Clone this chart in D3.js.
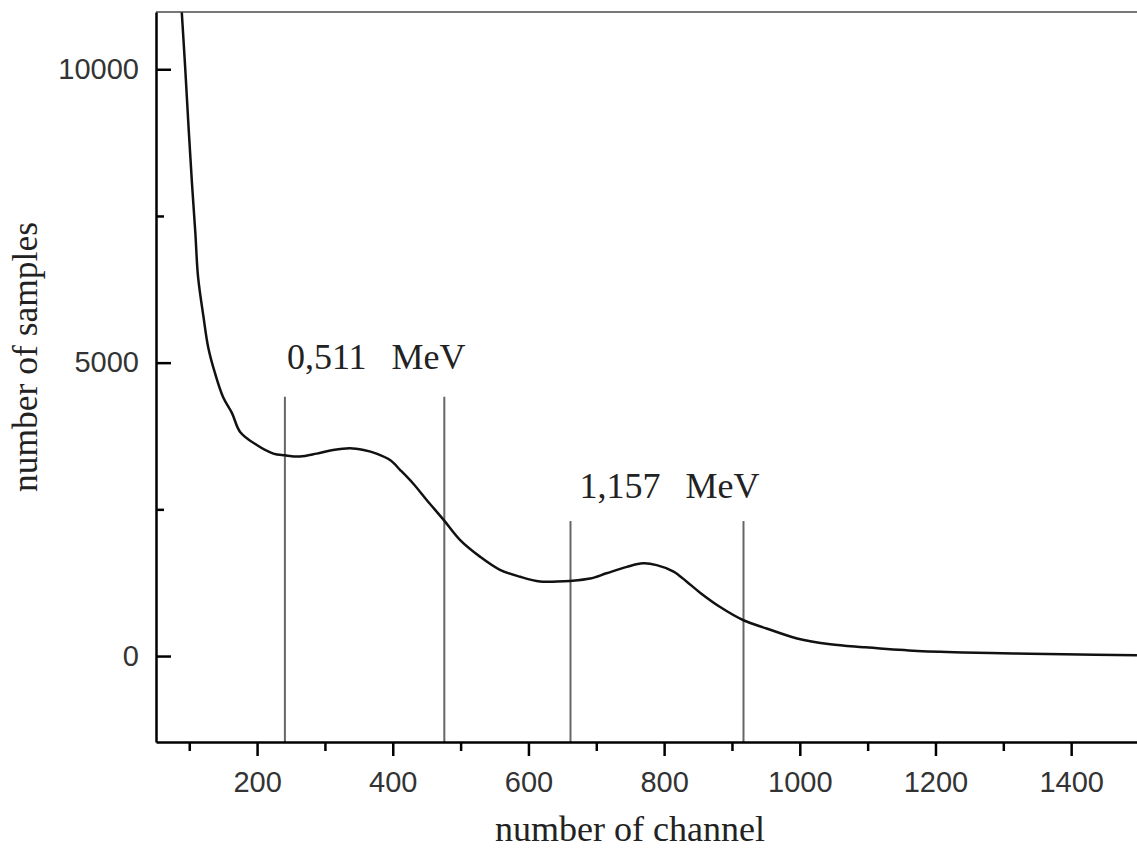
<!DOCTYPE html>
<html lang="en">

<head>
    <meta charset="UTF-8">
    <title>Spectrum</title>
    <script src="https://cdn.jsdelivr.net/npm/d3@7/dist/d3.min.js"></script>

    <style>

        body {
            margin: 0;
            background: #fff;
        }

        .tick text {
            font-family: "Liberation Sans", Arial, sans-serif;
            font-size: 29px;
            fill: #333;
        }

        .axis-title, .note {
            font-family: "Liberation Serif", "Times New Roman", serif;
            fill: #222;
        }

    </style>

</head>

<body>

    <svg width="1137" height="850"></svg>

    <script>

        // spectrum
        var channels = [89, 94, 99, 104, 109, 113, 121, 128, 138, 150, 163, 175, 199, 224, 241, 263,
            288, 312, 337, 357, 376, 396, 411, 430, 450, 475, 499, 529, 558, 588, 617, 642, 661,
            691, 715, 745, 769, 789, 814, 833, 853, 882, 917, 951, 996, 1045, 1094, 1167, 1241,
            1315, 1389, 1497];
        var counts = [10970, 10030, 9010, 8060, 7210, 6460, 5780, 5260, 4820, 4410, 4140, 3820, 3600,
            3450, 3420, 3400, 3450, 3510, 3540, 3510, 3450, 3340, 3170, 2940, 2660, 2320, 1980,
            1690, 1470, 1350, 1270, 1270, 1280, 1320, 1410, 1520, 1580, 1550, 1440, 1270, 1080,
            840, 610, 470, 300, 200, 150, 90, 60, 45, 30, 15];

        var xTicks = [200, 400, 600, 800, 1000, 1200, 1400];
        var xMinorTicks = [100, 300, 500, 700, 900, 1100, 1300, 1500];
        var yTicks = [0, 5000, 10000];
        var yMinorTicks = [2500, 7500];

        // window markers and their labels
        var markerChannels = [241, 476, 662, 917];
        var markerTops = [4420, 4420, 2300, 2300];
        var noteNames = ["0,511", "1,157"];
        var noteChannels = [241, 662];
        var noteCounts = [4900, 2690];

        var svg = d3.select("svg");

        var plotLeft = 156, plotRight = 1139, plotTop = 12, plotBottom = 742;

        var x = d3.scaleLinear()
            .domain([51, 1500])
            .range([plotLeft, plotRight]);

        var y = d3.scaleLinear()
            .domain([-1465, 10976])
            .range([plotBottom, plotTop]);

        svg.append("defs").append("clipPath")
            .attr("id", "plot")
            .append("rect")
            .attr("x", plotLeft)
            .attr("y", plotTop)
            .attr("width", plotRight - plotLeft)
            .attr("height", plotBottom - plotTop);

        // top frame line
        svg.append("line")
            .attr("x1", plotLeft)
            .attr("x2", plotRight)
            .attr("y1", plotTop)
            .attr("y2", plotTop)
            .attr("stroke", "#777")
            .attr("stroke-width", 2);

        // vertical markers
        svg.append("g")
            .selectAll("line")
            .data(markerChannels)
            .enter().append("line")
            .attr("x1", function(d) { return x(d); })
            .attr("x2", function(d) { return x(d); })
            .attr("y1", function(d, i) { return y(markerTops[i]); })
            .attr("y2", plotBottom)
            .attr("stroke", "#666")
            .attr("stroke-width", 2);

        var points = channels.map(function(c, i) { return [c, counts[i]]; });

        var line = d3.line()
            .x(function(d) { return x(d[0]); })
            .y(function(d) { return y(d[1]); })
            .curve(d3.curveCatmullRom.alpha(0.5));

        svg.append("path")
            .datum(points)
            .attr("clip-path", "url(#plot)")
            .attr("d", line)
            .attr("fill", "none")
            .attr("stroke", "#111")
            .attr("stroke-width", 2.5)
            .attr("stroke-linejoin", "round");

        // axes: minor ticks first, then major with labels
        svg.append("g")
            .attr("transform", "translate(0," + plotBottom + ")")
            .call(d3.axisBottom(x).tickValues(xMinorTicks).tickSize(9).tickFormat(""))
            .call(function(g) { g.select(".domain").remove(); })
            .selectAll("line").attr("stroke-width", 2.5);

        var xAxis = svg.append("g")
            .attr("transform", "translate(0," + plotBottom + ")")
            .call(d3.axisBottom(x).tickValues(xTicks).tickSize(14).tickSizeOuter(0).tickPadding(15)
                .tickFormat(d3.format("d")));
        xAxis.select(".domain").attr("stroke-width", 2.5);
        xAxis.selectAll(".tick line").attr("stroke-width", 2.5);

        svg.append("g")
            .attr("transform", "translate(" + plotLeft + ",0)")
            .call(d3.axisLeft(y).tickValues(yMinorTicks).tickSize(-8).tickFormat(""))
            .call(function(g) { g.select(".domain").remove(); })
            .selectAll("line").attr("stroke-width", 2.5);

        var yAxis = svg.append("g")
            .attr("transform", "translate(" + plotLeft + ",0)")
            .call(d3.axisLeft(y).tickValues(yTicks).tickSize(-15).tickSizeOuter(0).tickPadding(17)
                .tickFormat(d3.format("d")));
        yAxis.select(".domain").attr("stroke-width", 2.5);
        yAxis.selectAll(".tick line").attr("stroke-width", 2.5);

        // energy labels
        var note = svg.append("g")
            .selectAll("text")
            .data(noteNames)
            .enter().append("text")
            .attr("class", "note")
            .attr("x", function(d, i) { return x(noteChannels[i]) + (i === 0 ? 2 : 9); })
            .attr("y", function(d, i) { return y(noteCounts[i]); })
            .attr("font-size", 36);
        note.append("tspan").text(function(d) { return d; });
        note.append("tspan").attr("dx", 25).text("MeV");

        svg.append("text")
            .attr("class", "axis-title")
            .attr("x", 630)
            .attr("y", 841)
            .attr("text-anchor", "middle")
            .attr("font-size", 35)
            .attr("textLength", 270)
            .attr("lengthAdjust", "spacingAndGlyphs")
            .text("number of channel");

        svg.append("text")
            .attr("class", "axis-title")
            .attr("transform", "translate(37,357) rotate(-90)")
            .attr("text-anchor", "middle")
            .attr("font-size", 35)
            .attr("textLength", 270)
            .attr("lengthAdjust", "spacingAndGlyphs")
            .text("number of samples");

    </script>

</body>

</html>
